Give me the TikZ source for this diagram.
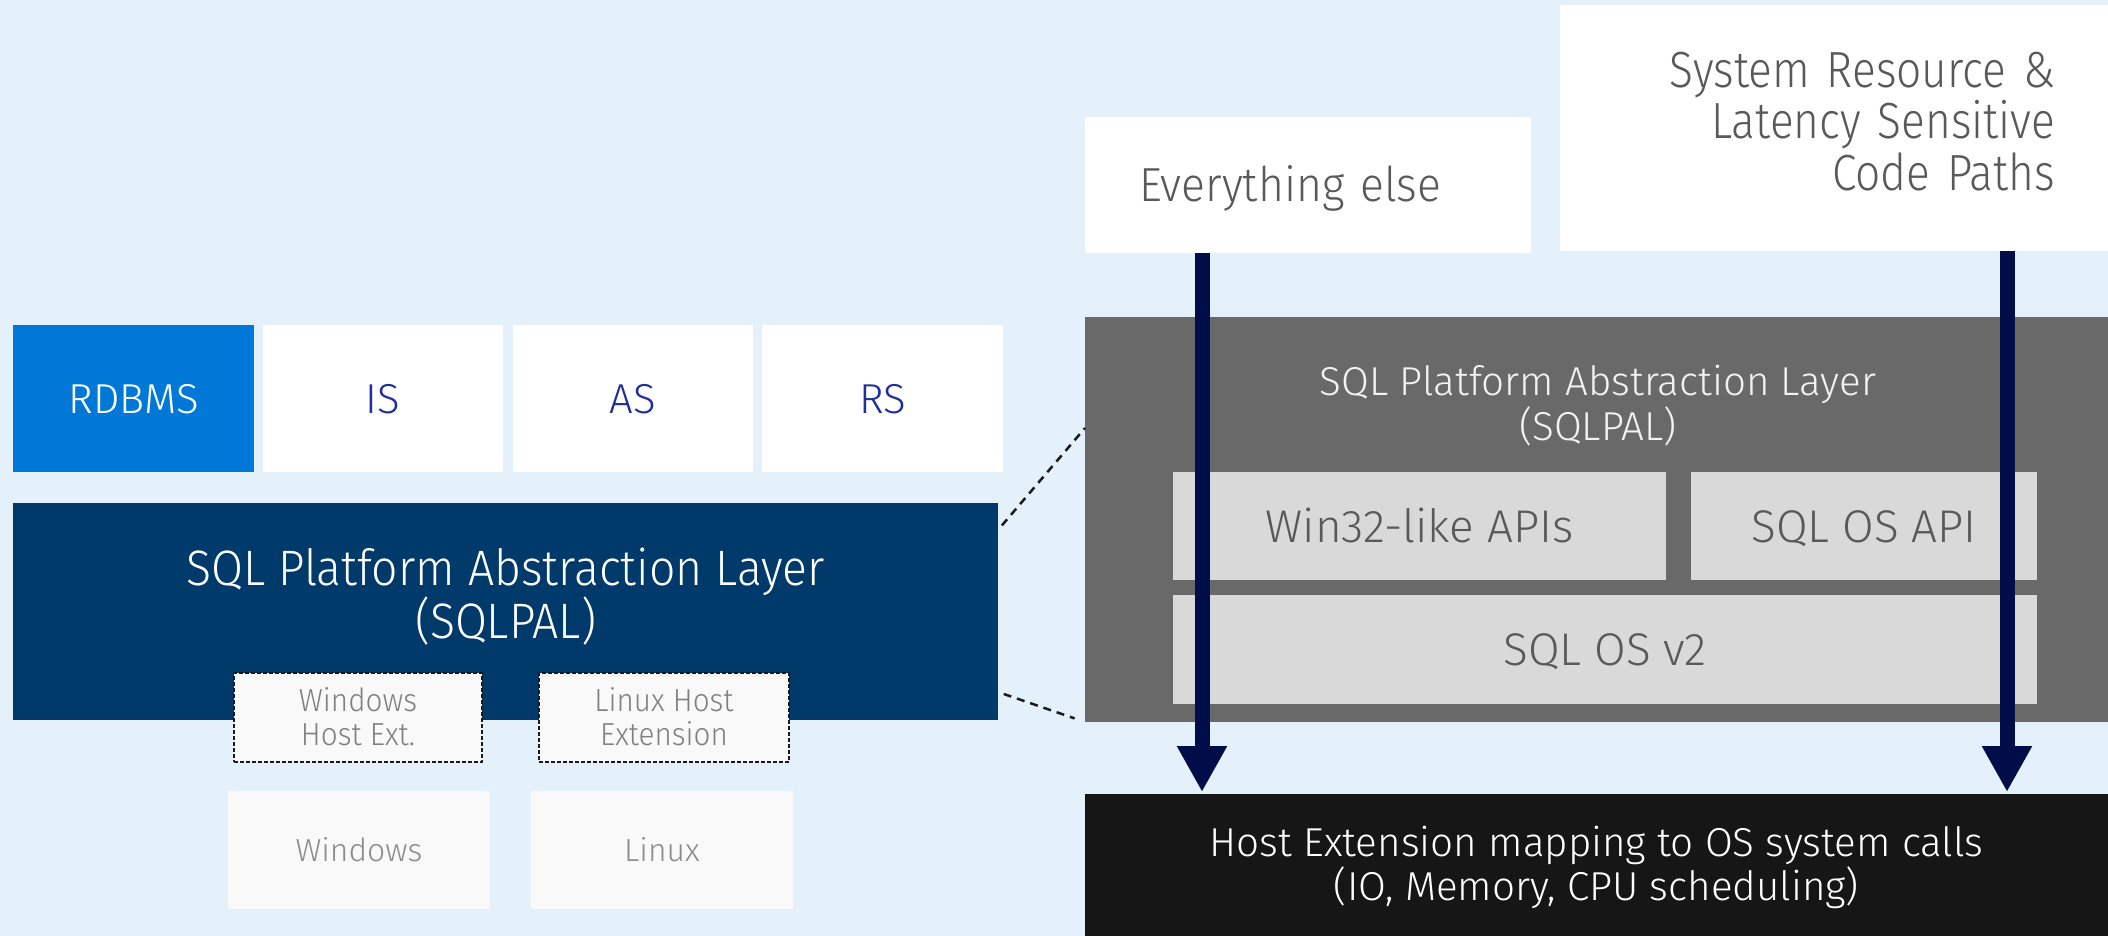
\documentclass[tikz,border=0pt]{standalone}
\usepackage{fontspec}
\setmainfont{Fira Sans Light}
\newfontfamily\ffA{Fira Sans Light}[FakeStretch=0.93]
\newfontfamily\ffB{Fira Sans Light}[FakeStretch=0.87]
\usetikzlibrary{arrows.meta}
\definecolor{bgc}{HTML}{E4F0FA}
\definecolor{rdbmsc}{HTML}{0078D7}
\definecolor{navyt}{HTML}{1F2E98}
\definecolor{palc}{HTML}{003A6B}
\definecolor{extfill}{HTML}{F9F9F9}
\definecolor{extt}{HTML}{808080}
\definecolor{ost}{HTML}{8C8C8C}
\definecolor{boxt}{HTML}{595959}
\definecolor{grayc}{HTML}{696969}
\definecolor{lightc}{HTML}{D9D9D9}
\definecolor{hostc}{HTML}{161616}
\definecolor{arrowc}{HTML}{000D48}
\definecolor{leaderc}{HTML}{1A1A1A}
\begin{document}
\begin{tikzpicture}[x=1bp,y=-1bp,
  box/.style={inner sep=0pt, outer sep=0pt, anchor=north west, align=center},
  topbox/.style={box, fill=white, minimum width=240bp, minimum height=147bp, text=navyt,
    font=\fontsize{42}{50}\selectfont, text height=29bp, text depth=0pt},
  extbox/.style={box, fill=extfill, draw=leaderc, dash pattern=on 4bp off 2bp, line width=1.5bp,
    text=extt, font=\ffA\fontsize{32}{34}\selectfont, text height=56bp, text depth=0bp},
  osbox/.style={box, fill=extfill, minimum width=262bp, minimum height=118bp, text=ost,
    font=\fontsize{32}{34}\selectfont, text height=22bp, text depth=0pt},
  lightbox/.style={box, fill=lightc, minimum height=108bp, text=boxt,
    font=\fontsize{46}{50}\selectfont, text height=32bp, text depth=0pt},
  flow/.style={line width=15bp, draw=arrowc, -{Triangle[width=47bp,length=46bp]}, shorten >=2bp},
  leader/.style={draw=leaderc, line width=2.5bp, dash pattern=on 8bp off 6bp}
]
\fill[bgc] (0,0) rectangle (2108,936);
\useasboundingbox (0,0) rectangle (2108,936);

% left stack
\node[topbox, fill=rdbmsc, text=white, minimum width=241bp] (rdbms) at (13,325) {RDBMS};
\node[topbox] (is) at (263,325) {IS};
\node[topbox] (as) at (513,325) {AS};
\node[topbox, minimum width=241bp] (rs) at (762,325) {RS};

\node[box, fill=palc, minimum width=985bp, minimum height=217bp] (pal) at (13,503) {};
\node[anchor=base, align=center, inner sep=0pt, text=white,
  font=\ffA\fontsize{50}{53}\selectfont] (paltitle) at (505.5,638) {SQL Platform Abstraction Layer\\(SQLPAL)};

\node[extbox, minimum width=248bp, minimum height=89bp] (winext) at (234,673) {Windows\\Host Ext.};
\node[extbox, minimum width=250bp, minimum height=89bp] (linext) at (539,673) {Linux Host\\Extension};

\node[osbox] (win) at (228,791) {Windows};
\node[osbox] (lin) at (531,791) {Linux};

% right side
\node[box, fill=white, minimum width=446bp, minimum height=136bp, inner xsep=54bp,
  text width=338bp, align=left, text=boxt, font=\ffA\fontsize{48}{52}\selectfont,
  text height=33bp, text depth=0pt] (ever) at (1085,117) {Everything else};
\node[box, fill=white, minimum width=548bp, minimum height=246bp, inner xsep=53bp,
  text width=442bp, align=right, text=boxt, font=\ffB\fontsize{51}{52}\selectfont,
  text height=35bp, text depth=117bp] (sysres) at (1560,5) {System Resource \&\\Latency Sensitive\\Code Paths};

\node[box, fill=grayc, minimum width=1023bp, minimum height=405bp] (gray) at (1085,317) {};
\node[anchor=base, align=center, inner sep=0pt, text=white!95!black,
  font=\fontsize{40.5}{45}\selectfont] (graytitle) at (1598,440) {SQL Platform Abstraction Layer\\(SQLPAL)};
\node[lightbox, minimum width=493bp] (win32) at (1173,472) {Win32-like APIs};
\node[lightbox, minimum width=346bp] (sqlosapi) at (1691,472) {SQL OS API};
\node[lightbox, minimum width=864bp, minimum height=109bp] (sqlosv2) at (1173,595) {SQL OS v2};

\node[box, fill=hostc, minimum width=1023bp, minimum height=142bp, text=white,
  font=\fontsize{40.5}{42}\selectfont, text height=70bp, text depth=0bp] (host) at (1085,794)
  {Host Extension mapping to OS system calls\\(IO, Memory, CPU scheduling)};

% leaders
\draw[leader, shorten <=6bp] ([yshift=81.5bp]pal.east) -- ([yshift=91.5bp]gray.west);
\draw[leader, shorten <=6bp, shorten >=11bp] ([yshift=-80.5bp]pal.east) -- (gray.south west);

% arrows
\coordinate (a1) at (1202,0);
\coordinate (a2) at (2007,0);
\draw[flow] (ever.south -| a1) -- (host.north -| a1);
\draw[flow] (sysres.south -| a2) -- (host.north -| a2);
\end{tikzpicture}
\end{document}
